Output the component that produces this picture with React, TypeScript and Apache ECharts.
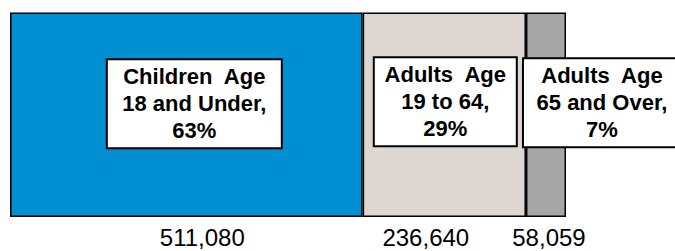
import React, { useEffect, useRef } from "react";
import * as echarts from "echarts";

const categories = ["Population"];
const groupNames = ["Children Age 18 and Under", "Adults Age 19 to 64", "Adults Age 65 and Over"];
const boxLines = [
  ["Children  Age", "18 and Under,"],
  ["Adults  Age", "19 to 64,"],
  ["Adults  Age", "65 and Over,"],
];
const percents = [63, 29, 7];
const counts = [511080, 236640, 58059];

const colors = ["#008FD0", "#DDD6D1", "#A6A6A6"];
const boxWidths = [173, 141, 156];
const boxOffsets = [[8, -11], [1, -13], [56, -12]];
const valueOffsets = [[16, 0], [-18.5, 0], [3, 0]];

export default function App() {
  const ref = useRef<HTMLDivElement>(null);
  useEffect(() => {
    if (!ref.current) return;
    const chart = echarts.init(ref.current, null, { renderer: "svg" });
    const total = counts.reduce((a, b) => a + b, 0);
    const barSeries = counts.map((v, i) => ({
      name: groupNames[i],
      type: "bar",
      stack: "pop",
      barWidth: "100%",
      barGap: "-100%",
      data: [v],
      itemStyle: { color: colors[i], borderColor: "#000", borderWidth: 1.5 },
      z: 2,
      label: {
        show: true,
        position: "inside",
        offset: boxOffsets[i],
        formatter: () => `${boxLines[i][0]}\n${boxLines[i][1]}\n${percents[i]}%`,
        fontFamily: "Liberation Sans, Arial, sans-serif",
        fontWeight: "bold",
        fontSize: 22,
        lineHeight: 27,
        color: "#000",
        backgroundColor: "#fff",
        borderColor: "#000",
        borderWidth: 2,
        padding: [3, 0, 3, 0],
        width: boxWidths[i],
        align: "center",
        verticalAlign: "middle",
      },
      emphasis: { disabled: true },
    }));
    const valueSeries = counts.map((v, i) => ({
      name: groupNames[i] + " count",
      type: "bar",
      stack: "count",
      barWidth: "100%",
      barGap: "-100%",
      data: [v],
      itemStyle: { color: "transparent", borderWidth: 0 },
      z: 1,
      label: {
        show: true,
        position: "bottom",
        distance: 8,
        offset: valueOffsets[i],
        formatter: (p: any) => Number(p.value).toLocaleString("en-US"),
        fontFamily: "Liberation Sans, Arial, sans-serif",
        fontSize: 24,
        lineHeight: 24,
        color: "#000",
      },
      emphasis: { disabled: true },
    }));
    chart.setOption({
      animation: false,
      grid: { left: 10, top: 12.5, width: 556, height: 204.5, containLabel: false },
      xAxis: { type: "value", min: 0, max: total, show: false },
      yAxis: { type: "category", data: categories, show: false },
      series: [...valueSeries, ...barSeries],
    });
    return () => chart.dispose();
  }, []);
  return (
    <div
      ref={ref}
      style={{ position: "fixed", left: 0, top: 0, width: 675, height: 251, background: "#fff" }}
    />
  );
}
